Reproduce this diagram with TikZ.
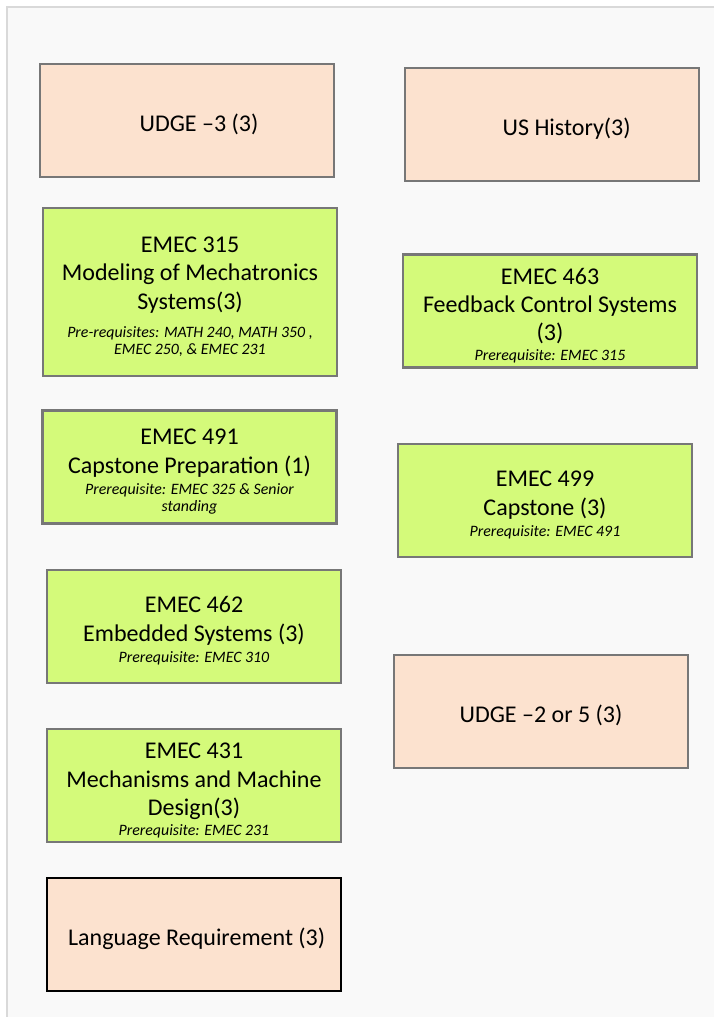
\documentclass[tikz,border=0pt]{standalone}
\usepackage{fontspec}
\setmainfont{Carlito}
\usepackage{xcolor}
\usepackage{tikz}
\usetikzlibrary{positioning}

\definecolor{pnlbg}{HTML}{F9F9F9}
\definecolor{pnlline}{HTML}{D9D9D9}
\definecolor{crsgreen}{HTML}{D4FA7A}
\definecolor{crspeach}{HTML}{FCE2CF}
\definecolor{crsline}{HTML}{777777}

\newcommand{\crsfont}{\fontsize{18}{21.3}\selectfont}
\newcommand{\prereq}[2][3.5pt]{\par\vspace{#1}{\fontsize{11.9}{12.75}\selectfont\itshape #2\par}}

\begin{document}
\begin{tikzpicture}[x=0.75pt, y=-0.75pt,
    crs block/.style={rectangle, draw=crsline, line width=1.9pt, minimum width=220.5pt,
        minimum height=84.75pt, inner sep=0pt, text width=214pt, align=flush center, font=\crsfont,
        execute at begin node={\rule{0pt}{19pt}}},
    req block/.style={crs block, fill=crsgreen},
    ge block/.style={crs block, fill=crspeach}]

    % panel
    \useasboundingbox (0,0) rectangle (714,1017);
    \fill[white] (0,0) rectangle (714,1017);
    \fill[pnlbg] (7,7) rectangle (714,1017);
    \draw[pnlline, line width=1.5pt] (714,7) -- (7,7) -- (7,1017);

    % left column
    \node [ge block] (udge3) at (187,120.5) {\hspace*{18pt}UDGE --3 (3)};
    \node [req block, minimum height=126pt] (emec315) at (190,292) {EMEC 315\\Modeling of Mechatronics\\Systems(3)%
        \prereq[8.5pt]{Pre-requisites: MATH 240, MATH 350 ,\\ EMEC 250, \& EMEC 231}};
    \node [req block] (emec491) at (189.5,467) {EMEC 491\\Capstone Preparation (1)%
        \prereq{Prerequisite: EMEC 325 \& Senior\\standing}};
    \node [req block] (emec462) at (194,626.5) {EMEC 462\\Embedded Systems (3)%
        \prereq{Prerequisite: EMEC 310}};
    \node [req block] (emec431) at (194,785.5) {EMEC 431\\Mechanisms and Machine\\Design(3)%
        \prereq[2pt]{Prerequisite: EMEC 231}};
    \node [ge block, draw=black] (lang) at (194,934.5) {\hspace*{4pt}Language Requirement (3)};

    % right column
    \node [ge block] (ushist) at (552,124.5) {\hspace*{22pt}US History(3)};
    \node [req block] (emec463) at (550,311) {EMEC 463\\Feedback Control Systems\\(3)%
        \prereq[2pt]{Prerequisite: EMEC 315}};
    \node [req block] (emec499) at (545,500.5) {EMEC 499\\Capstone (3)%
        \prereq{Prerequisite: EMEC 491}};
    \node [ge block] (udge25) at (541,711.5) {UDGE --2 or 5 (3)};

\end{tikzpicture}
\end{document}
